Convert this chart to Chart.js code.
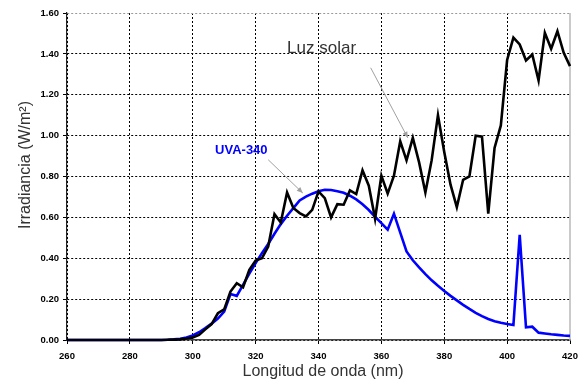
<!DOCTYPE html>
<html><head><meta charset="utf-8">
<script src="https://cdn.jsdelivr.net/npm/chart.js@4.4.0/dist/chart.umd.min.js"></script>
<style>html,body{margin:0;padding:0;background:#fff;}</style>
</head><body>
<canvas id="c" width="587" height="387"></canvas>
<script>
const wavelengths = [260,262,264,266,268,270,272,274,276,278,280,282,284,286,288,290,292,294,296,298,
  300,302,304,306,308,310,312,314,316,318,320,322,324,326,328,330,332,334,336,338,
  340,342,344,346,348,350,352,354,356,358,360,362,364,366,368,370,372,374,376,378,
  380,382,384,386,388,390,392,394,396,398,400,402,404,406,408,410,412,414,416,418,420];

const sunlight = [0,0,0,0,0,0,0,0,0,0,0,0,0,0,0,0,0.001,0.002,0.003,0.007,
  0.012,0.025,0.052,0.078,0.131,0.150,0.237,0.278,0.258,0.343,0.389,0.400,0.457,0.616,0.575,0.722,0.646,0.621,0.605,0.637,
  0.727,0.694,0.600,0.665,0.662,0.732,0.714,0.830,0.755,0.593,0.804,0.716,0.804,0.972,0.879,0.989,0.869,0.722,0.880,1.100,
  0.920,0.760,0.650,0.784,0.800,1.000,0.995,0.618,0.940,1.050,1.370,1.480,1.446,1.368,1.397,1.270,1.503,1.425,1.511,1.405,1.340];

const uva340 = [0,0,0,0,0,0,0,0,0,0,0,0,0,0,0,0,0.001,0.003,0.006,0.012,
  0.022,0.038,0.058,0.080,0.105,0.139,0.225,0.216,0.270,0.325,0.376,0.425,0.470,0.520,0.567,0.608,0.645,0.683,0.702,0.716,
  0.728,0.735,0.734,0.728,0.720,0.706,0.688,0.664,0.636,0.603,0.572,0.540,0.618,0.525,0.433,0.390,0.355,0.322,0.292,0.265,
  0.240,0.216,0.194,0.172,0.152,0.133,0.117,0.103,0.092,0.084,0.078,0.073,0.515,0.062,0.065,0.036,0.032,0.028,0.025,0.022,0.020];

const xTicks = [260,280,300,320,340,360,380,400,420];
const yTicks = [0,0.2,0.4,0.6,0.8,1.0,1.2,1.4,1.6];

const seriesNames = ['Luz solar','UVA-340'];
const xTitle = 'Longitud de onda (nm)';
const yTitle = 'Irradiancia (W/m²)';

const toPts = arr => wavelengths.map((w,i)=>({x:w,y:arr[i]}));

const FONT = '"Liberation Sans", Arial, sans-serif';

function arrow(ctx, x1, y1, x2, y2){
  ctx.beginPath(); ctx.moveTo(x1,y1); ctx.lineTo(x2,y2); ctx.stroke();
  const a = Math.atan2(y2-y1, x2-x1), L=6, W=2.6;
  ctx.beginPath();
  ctx.moveTo(x2,y2);
  ctx.lineTo(x2 - L*Math.cos(a) + W*Math.sin(a), y2 - L*Math.sin(a) - W*Math.cos(a));
  ctx.lineTo(x2 - L*Math.cos(a) - W*Math.sin(a), y2 - L*Math.sin(a) + W*Math.cos(a));
  ctx.closePath(); ctx.fill();
}

const decor = {
  id:'decor',
  beforeDatasetsDraw(chart){
    const {ctx, scales:{x,y}} = chart;
    ctx.save();
    ctx.strokeStyle='#b8b8b8'; ctx.lineWidth=1.5;
    const px = x.getPixelForValue(xTicks[xTicks.length-1]);
    ctx.beginPath(); ctx.moveTo(px, y.getPixelForValue(yTicks[yTicks.length-1])); ctx.lineTo(px, y.getPixelForValue(0)); ctx.stroke();
    ctx.restore();
  },
  afterDatasetsDraw(chart){
    const {ctx, scales:{x,y}} = chart;
    ctx.save();
    ctx.strokeStyle='#a0a0a0'; ctx.fillStyle='#a0a0a0'; ctx.lineWidth=1;
    arrow(ctx, x.getPixelForValue(356.6), y.getPixelForValue(1.332), x.getPixelForValue(368.4), y.getPixelForValue(0.989));
    arrow(ctx, x.getPixelForValue(324), y.getPixelForValue(0.882), x.getPixelForValue(335), y.getPixelForValue(0.719));
    ctx.textBaseline='middle'; ctx.textAlign='left';
    ctx.fillStyle='#333'; ctx.font='17px '+FONT;
    ctx.fillText(seriesNames[0], x.getPixelForValue(330), y.getPixelForValue(1.426));
    ctx.fillStyle='#0000ff'; ctx.font='bold 13px '+FONT;
    ctx.fillText(seriesNames[1], x.getPixelForValue(307.1), y.getPixelForValue(0.928));
    ctx.fillStyle='#333'; ctx.font='16px '+FONT; ctx.textAlign='center';
    ctx.fillText(xTitle, 323, 372);
    ctx.translate(26, 165); ctx.rotate(-Math.PI/2);
    ctx.fillText(yTitle, 0, 0);
    ctx.restore();
  }
};

new Chart(document.getElementById('c'), {
  type:'line',
  data:{
    datasets:[
      {label:seriesNames[0], data:toPts(sunlight), borderColor:'#000', borderWidth:2.6, pointRadius:0, tension:0, clip:false},
      {label:seriesNames[1], data:toPts(uva340), borderColor:'#0000ff', borderWidth:2.6, pointRadius:0, tension:0, clip:false}
    ]
  },
  options:{
    responsive:false, animation:false, devicePixelRatio:1,
    layout:{padding:{left:0,right:17,top:13,bottom:0}},
    plugins:{legend:{display:false}, tooltip:{enabled:false}},
    scales:{
      x:{type:'linear', min:260, max:420,
        afterBuildTicks: s => { s.ticks = xTicks.map(v=>({value:v})); },
        afterFit: s => { s.height = 47; },
        ticks:{font:{family:FONT, size:9.5, weight:'bold'}, color:'#000', padding:7, maxRotation:0, autoSkip:false,
          callback: v => String(v)},
        grid:{color: c => (c.tick && c.tick.value===420) ? 'rgba(0,0,0,0)' : '#000', lineWidth:1, tickLength:4, tickColor:'#000', drawTicks:true},
        border:{display:true, color:'#444', width:1.5, dash:[2,2]}
      },
      y:{type:'linear', min:0, max:1.6,
        afterBuildTicks: s => { s.ticks = yTicks.map(v=>({value:v})); },
        afterFit: s => { s.width = 67; },
        ticks:{font:{family:FONT, size:9.5, weight:'bold'}, color:'#000', padding:4,
          callback: v => Number(v).toFixed(2)},
        grid:{color: c => (c.tick && Math.abs(c.tick.value-1.6)<1e-9) ? '#999' : '#000', lineWidth:1, tickLength:4, tickColor:'#000', drawTicks:true},
        border:{display:true, color:'#222', width:1.2, dash:[2,2]}
      }
    }
  },
  plugins:[decor]
});
</script>
</body></html>
